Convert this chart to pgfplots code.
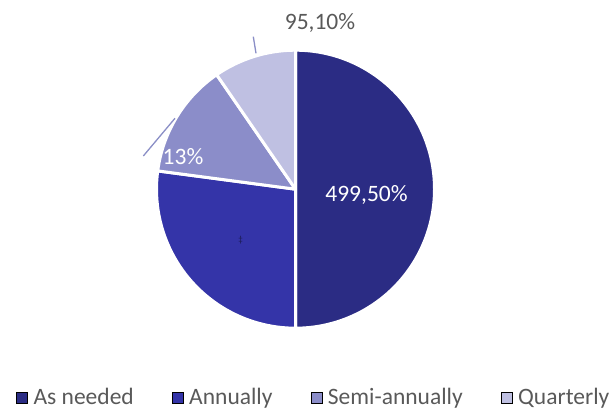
\documentclass[border=0pt]{standalone}
\usepackage{fontspec}
\setmainfont{Carlito}
\usepackage{pgfplots}
\usepackage{pgfplotstable}
\pgfplotsset{compat=1.18}

\definecolor{slice0}{HTML}{2B2C84}
\definecolor{slice1}{HTML}{3434A8}
\definecolor{slice2}{HTML}{8B8DC9}
\definecolor{slice3}{HTML}{BFC0E2}
\definecolor{txtgray}{HTML}{595959}
\definecolor{leader}{HTML}{8A8EC6}

% share of each answer, in percent
\pgfplotstableread{
label value
{As needed} 50.0
Annually 27.1
Semi-annually 13.3
Quarterly 9.6
}\piedata

\begin{document}
\begin{tikzpicture}
% start/end angles, clockwise from 12 o'clock
\xdef\curang{90}
\foreach \i in {0,...,3}{%
  \pgfplotstablegetelem{\i}{value}\of\piedata
  \pgfmathsetmacro\endang{\curang-3.6*\pgfplotsretval}%
  \expandafter\xdef\csname sa\i\endcsname{\curang}%
  \expandafter\xdef\csname ea\i\endcsname{\endang}%
  \xdef\curang{\endang}%
}
\begin{axis}[
    width=615pt, height=412pt,
    scale only axis,
    xmin=0, xmax=615, ymin=0, ymax=412,
    hide axis, clip=false,
    legend columns=4,
    legend image code/.code={\fill[#1] (0pt,-5.5pt) rectangle (11pt,5.5pt);},
    legend style={
        at={(axis cs:13,14.5)}, anchor=west,
        draw=none, fill=none,
        font=\fontsize{23.5}{28}\selectfont, text=txtgray,
        nodes={inner sep=0pt},
        /tikz/every odd column/.append style={column sep=6pt},
        /tikz/every even column/.append style={column sep=38pt},
    },
]
\coordinate (bl) at (axis cs:0,0);
\coordinate (tr) at (axis cs:615,412);
\pgfplotsinvokeforeach{0,...,3}{
  \filldraw[fill=slice#1, draw=white, line width=3pt, line join=round]
    (axis cs:295.5,222.8) -- ++(\csname sa#1\endcsname:139pt)
    arc[start angle=\csname sa#1\endcsname, end angle=\csname ea#1\endcsname, radius=139pt] -- cycle;
}
\addlegendimage{fill=slice0}
\addlegendentry{As needed}
\addlegendimage{fill=slice1}
\addlegendentry{Annually}
\addlegendimage{fill=slice2}
\addlegendentry{Semi-annually}
\addlegendimage{fill=slice3}
\addlegendentry{Quarterly}

% data labels
\node[anchor=base, text=white, font=\fontsize{23.5}{28}\selectfont] at (axis cs:366.5,210.3) {499,50\%};
\node[anchor=base, text=white, font=\fontsize{23.5}{28}\selectfont] at (axis cs:183,247) {13\%};
\node[anchor=base, text=txtgray, font=\fontsize{23.5}{28}\selectfont] at (axis cs:320,382) {95,10\%};
\node[text=slice0!60!black, font=\fontsize{9}{10}\selectfont] at (axis cs:240.5,172) {‡};
\draw[leader, line width=1.3pt] (axis cs:253.3,375.3) -- (axis cs:256,358.7);
\draw[leader, line width=1.3pt] (axis cs:143.3,256) -- (axis cs:175,293.7);
\end{axis}
\pgfresetboundingbox
\path (bl) rectangle (tr);
\end{tikzpicture}
\end{document}
